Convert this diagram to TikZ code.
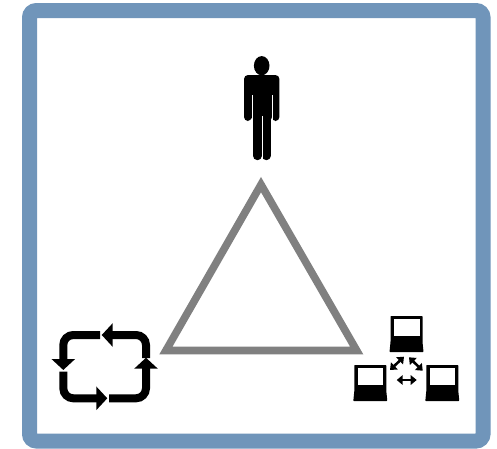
\documentclass[tikz,border=0pt]{standalone}
\usepackage{xcolor}
\usetikzlibrary{arrows.meta}
\definecolor{frameblue}{RGB}{112,149,186}
\definecolor{trigray}{RGB}{128,128,128}

\begin{document}
\begin{tikzpicture}[x=1pt,y=-1pt,
    frm/.style={draw=frameblue,line width=15pt,rounded corners=7pt},
    tri/.style={draw=trigray,line width=7.6pt,miter limit=10},
    cyc/.style={-{Triangle[length=11pt,width=23pt]},black,line width=8pt,rounded corners=10pt},
    lnk/.style={{Triangle[length=6pt,width=9.5pt]}-{Triangle[length=6pt,width=9.5pt]},black,line width=2.6pt},
    pic1/.pic={
      \fill[black,rounded corners=0.6pt] (-16,0) -- (16,0) -- (16,26) -- (17,36) -- (-17,36) -- (-16,26) -- cycle;
      \fill[white] (-12.5,3) rectangle (13,20);
    }]

    \useasboundingbox (0,0) rectangle (497,448);
    \fill[white] (0,0) rectangle (497,448);
    \draw[frm] (29.5,10.5) rectangle (483,441);

    \coordinate (apex) at (261,184.6);
    \coordinate (lft) at (165.9,350.5);
    \coordinate (rgt) at (356.7,350.5);
    \draw[tri] (apex) -- (lft) -- (rgt) -- cycle;

    \fill[black] (261.7,65.7) ellipse (7.8pt and 9.6pt);
    \fill[black,rounded corners=4pt] (244,121) -- (244,75) -- (279.4,75) -- (279.4,121) -- (271.8,121) -- (271.8,115) -- (251.6,115) -- (251.6,121) -- cycle;
    \draw[black,line width=9pt,line cap=round] (257.3,112) -- (257.3,155.7);
    \draw[black,line width=9pt,line cap=round] (266.2,112) -- (266.2,155.7);
    \draw[white,line width=0.4pt] (251.7,95) -- (251.7,121);
    \draw[white,line width=0.4pt] (271.7,95) -- (271.7,121);
    \draw[white,line width=0.6pt] (261.8,116) -- (261.8,160);

    \coordinate (c1) at (146,358);
    \coordinate (c2) at (101.7,335);
    \coordinate (c3) at (100,335);
    \coordinate (c4) at (63.3,370);
    \coordinate (c5) at (63.3,371.7);
    \coordinate (c6) at (107.3,398.3);
    \coordinate (c7) at (109,398.3);
    \coordinate (c8) at (146,357.7);
    \draw[cyc] (c1) -- (146,335) -- (c2);
    \draw[cyc] (c3) -- (63.3,335) -- (c4);
    \draw[cyc] (c5) -- (63.3,398.3) -- (c6);
    \draw[cyc] (c7) -- (146,398.3) -- (c8);

    \pic (pc1) at (406.5,316) {pic1};
    \pic (pc2) at (370.3,365) {pic1};
    \pic (pc3) at (442.3,365) {pic1};

    \coordinate (l1) at (390,370);
    \coordinate (l2) at (404,356.7);
    \coordinate (l3) at (409,357.3);
    \coordinate (l4) at (422.7,370.7);
    \coordinate (l5) at (396.7,380);
    \coordinate (l6) at (416.7,380);
    \draw[lnk] (l1) -- (l2);
    \draw[lnk] (l3) -- (l4);
    \draw[lnk] (l5) -- (l6);
\end{tikzpicture}
\end{document}
